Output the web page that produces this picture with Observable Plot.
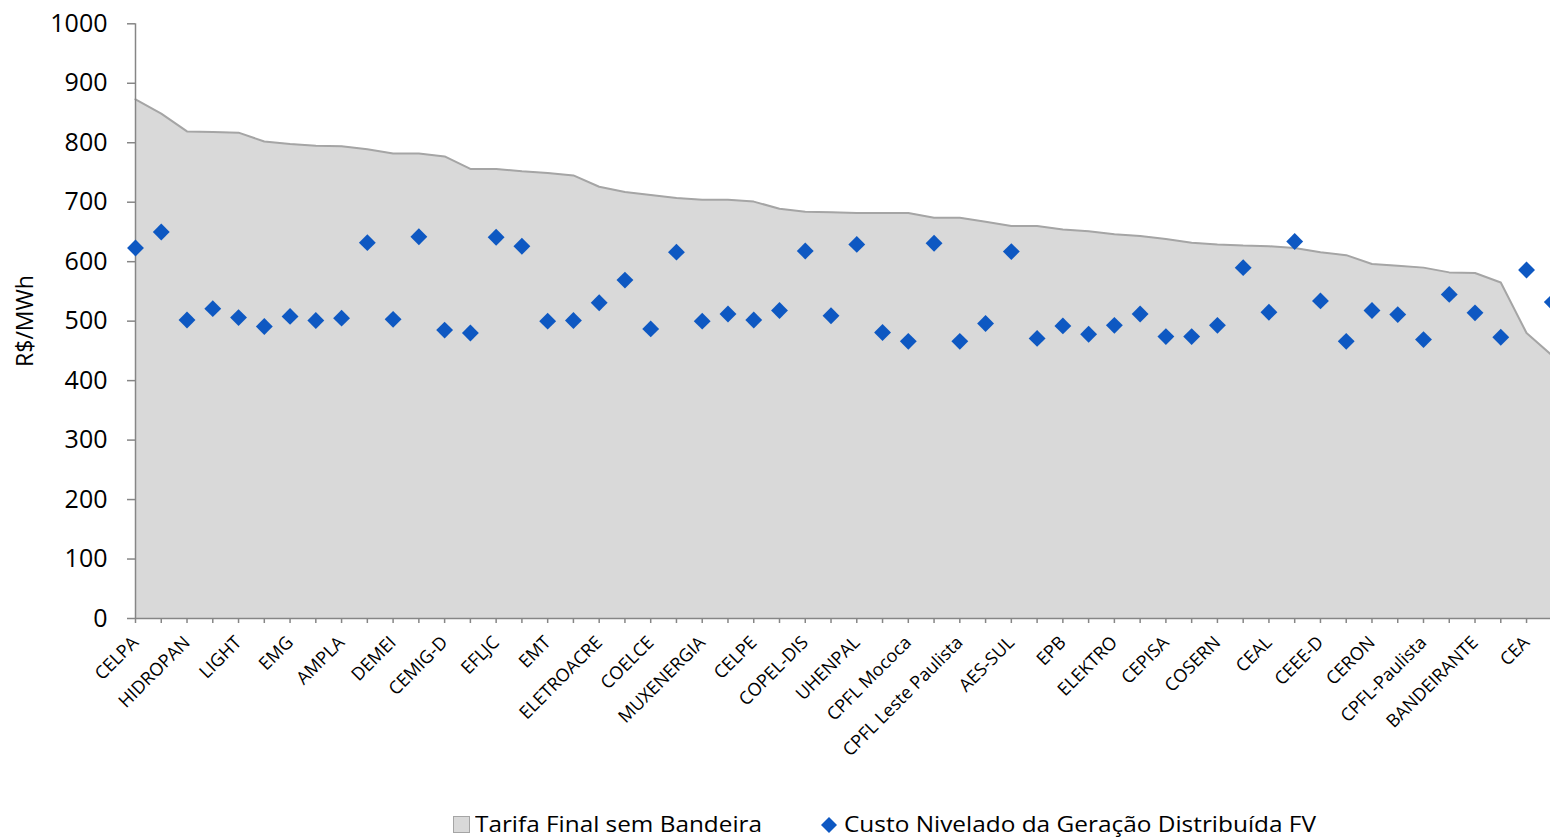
<!DOCTYPE html>
<html><head><meta charset="utf-8">
<script src="https://cdn.jsdelivr.net/npm/d3@7"></script>
<script src="https://cdn.jsdelivr.net/npm/@observablehq/plot@0.6"></script>
<style>
body{margin:0;background:#fff;font-family:"Open Sans",sans-serif;}
#wrap{position:relative;width:1550px;height:837px;overflow:hidden;}
#chart{position:absolute;left:0;top:0;}
.leg{position:absolute;white-space:nowrap;font-size:22px;line-height:26px;color:#000;transform-origin:0 50%;}
.sw{position:absolute;}
</style></head><body><div id="wrap"><div id="chart"></div><div id="legend"></div></div>
<script>
// Labels shown on the axis (every second distributor)
const labels = ["CELPA","HIDROPAN","LIGHT","EMG","AMPLA","DEMEI","CEMIG-D","EFLJC","EMT","ELETROACRE","COELCE","MUXENERGIA","CELPE","COPEL-DIS","UHENPAL","CPFL Mococa","CPFL Leste Paulista","AES-SUL","EPB","ELEKTRO","CEPISA","COSERN","CEAL","CEEE-D","CERON","CPFL-Paulista","BANDEIRANTE","CEA"];
// Tarifa Final sem Bandeira (R$/MWh)
const tarifa = [873, 849, 819, 818, 817, 802, 798, 795, 794, 789, 782, 782, 777, 756, 756, 752, 749, 745, 726, 717, 712, 707, 704, 704, 701, 689, 684, 683, 682, 682, 682, 674, 674, 667, 660, 660, 654, 651, 646, 643, 638, 632, 629, 627, 626, 623, 616, 611, 596, 593, 590, 582, 581, 565, 480, 442];
// Custo Nivelado da Geração Distribuída FV (R$/MWh)
const custo = [623, 650, 502, 521, 506, 491, 508, 501, 505, 632, 503, 642, 485, 480, 641, 626, 500, 501, 531, 569, 487, 616, 500, 512, 502, 518, 618, 509, 629, 481, 466, 631, 466, 496, 617, 471, 492, 478, 493, 512, 474, 474, 493, 590, 515, 634, 534, 466, 518, 511, 469, 545, 514, 473, 586, 532];
const yTicks = [0, 100, 200, 300, 400, 500, 600, 700, 800, 900, 1000];
const seriesNames = ["Tarifa Final sem Bandeira", "Custo Nivelado da Geração Distribuída FV"];
const yLabel = "R$/MWh";

const idx = d3.range(tarifa.length);
const data = idx.map(i => ({i, tarifa: tarifa[i], custo: custo[i]}));

const chart = Plot.plot({
  width: 1550, height: 806,
  marginLeft: 135, marginRight: 0, marginTop: 23, marginBottom: 188,
  style: {fontFamily: "'Open Sans', sans-serif", color: "#000", background: "#fff"},
  x: {type: "point", domain: idx, range: [135, 1551.8], padding: 0, align: 0},
  y: {domain: [0, 1000], range: [618, 23.3]},
  marks: [
    Plot.areaY(data, {x: "i", y: "tarifa", fill: "#d9d9d9", curve: "linear"}),
    Plot.lineY(data, {x: "i", y: "tarifa", stroke: "#a5a5a5", strokeWidth: 2}),
    Plot.ruleX([0], {x: () => 0, y1: 0, y2: 1000, stroke: "#868686", strokeWidth: 1.5}),
    Plot.ruleY([0], {x1: 0, x2: tarifa.length - 1, stroke: "#868686", strokeWidth: 1.5}),
    Plot.axisY({ticks: yTicks, tickSize: 8, tickPadding: 20, fontSize: 25, stroke: "#868686", strokeWidth: 1.5,
      tickFormat: d => String(d), label: yLabel, labelAnchor: "center", labelArrow: "none", labelOffset: 119}),
    Plot.axisX({ticks: idx, tickFormat: i => i % 2 === 0 ? labels[i / 2] : "", tickRotate: -45,
      tickSize: 5, tickPadding: 16, fontSize: 18, stroke: "#868686", strokeWidth: 1.5, label: null}),
    Plot.dot(data, {x: "i", y: "custo", symbol: "diamond2", r: 7.6, fill: "#0e58c2", stroke: "none"})
  ]
});
chart.querySelectorAll('[aria-label="y-axis label"] text').forEach(t => t.setAttribute("font-size", "23"));
document.getElementById("chart").appendChild(chart);

const legend = document.getElementById("legend");
legend.innerHTML = `
  <div class="sw" style="left:453px;top:816px;width:15px;height:15px;background:#d9d9d9;border:1px solid #a5a5a5;"></div>
  <div class="leg" id="l1" style="left:475px;top:810px;">${seriesNames[0]}</div>
  <svg class="sw" style="left:821px;top:817px;" width="16" height="16"><path d="M8,0L16,8L8,16L0,8Z" fill="#0e58c2"/></svg>
  <div class="leg" id="l2" style="left:844px;top:810px;">${seriesNames[1]}</div>`;
// stretch legend texts to the widths seen in the reference
[["l1", 287], ["l2", 472]].forEach(([id, w]) => {
  const el = document.getElementById(id);
  el.style.transform = `scaleX(${w / el.getBoundingClientRect().width})`;
});
</script>
</body></html>
